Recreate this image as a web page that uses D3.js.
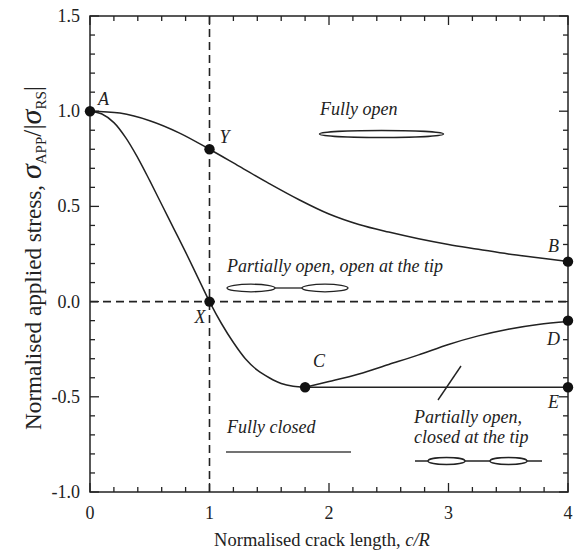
<!DOCTYPE html>
<html><head><meta charset="utf-8">
<script src="https://cdn.jsdelivr.net/npm/d3@7"></script>
<style>
html,body{margin:0;padding:0;background:#fff;}
</style></head>
<body>
<svg id="chart" width="575" height="559"></svg>
<script>
// Upper boundary A–Y–B (fully open / partially open, open at tip)
const upperX = [0, 0.25, 0.5, 0.75, 1.0, 1.25, 1.5, 1.75, 2.0, 2.25, 2.5, 2.75, 3.0, 3.25, 3.5, 3.75, 4.0];
const upperY = [1.0, 0.99, 0.95, 0.885, 0.8, 0.71, 0.62, 0.535, 0.46, 0.405, 0.365, 0.33, 0.3, 0.275, 0.25, 0.23, 0.21];
// Lower boundary A–X–C
const lowerX = [0, 0.1, 0.2, 0.3, 0.4, 0.5, 0.6, 0.7, 0.8, 0.9, 1.0, 1.1, 1.2, 1.3, 1.4, 1.5, 1.6, 1.7, 1.8];
const lowerY = [1.0, 0.985, 0.94, 0.86, 0.755, 0.635, 0.51, 0.385, 0.26, 0.13, 0.0, -0.115, -0.215, -0.3, -0.36, -0.4, -0.43, -0.445, -0.45];
// Branch C–D
const cdX = [1.8, 2.0, 2.25, 2.5, 2.75, 3.0, 3.25, 3.5, 3.75, 4.0];
const cdY = [-0.45, -0.42, -0.38, -0.33, -0.28, -0.225, -0.18, -0.145, -0.12, -0.105];
// Branch C–E
const ceX = [1.8, 4.0];
const ceY = [-0.45, -0.45];
// Labelled points
const pointNames = ["A", "Y", "B", "X", "C", "D", "E"];
const pointX = [0, 1, 4, 1, 1.8, 4, 4];
const pointY = [1.0, 0.8, 0.21, 0.0, -0.45, -0.1, -0.45];
// Ticks
const xTickLabels = ["0", "1", "2", "3", "4"];
const yTickLabels = ["1.5", "1.0", "0.5", "0.0", "-0.5", "-1.0"];
const xTicks = [0, 1, 2, 3, 4];
const yTicks = [1.5, 1.0, 0.5, 0.0, -0.5, -1.0];

const FONT = "'Liberation Serif', 'Times New Roman', 'DejaVu Serif', serif";
const svg = d3.select("#chart").attr("font-family", FONT).style("font-family", FONT);
const L = 90, R = 568, T = 16, B = 492;
const x = d3.scaleLinear().domain([0, 4]).range([L, R]);
const y = d3.scaleLinear().domain([-1, 1.5]).range([B, T]);
const ink = "#222";

// frame
svg.append("rect").attr("x", L).attr("y", T).attr("width", R - L).attr("height", B - T)
  .attr("fill", "none").attr("stroke", ink).attr("stroke-width", 1.5);

// minor/major ticks (inward on all sides)
const xMinor = d3.range(0, 4.0001, 0.2);
const yMinor = d3.range(-1, 1.5001, 0.1);
const isMajor = (v, s) => Math.abs(v / s - Math.round(v / s)) < 1e-6;
const tg = svg.append("g").attr("stroke", ink).attr("stroke-width", 1.3);
xMinor.forEach(v => {
  const len = isMajor(v, 1) ? 9 : 5;
  tg.append("line").attr("x1", x(v)).attr("x2", x(v)).attr("y1", B).attr("y2", B - len);
  tg.append("line").attr("x1", x(v)).attr("x2", x(v)).attr("y1", T).attr("y2", T + len);
});
yMinor.forEach(v => {
  const len = isMajor(v, 0.5) ? 9 : 5;
  tg.append("line").attr("y1", y(v)).attr("y2", y(v)).attr("x1", L).attr("x2", L + len);
  tg.append("line").attr("y1", y(v)).attr("y2", y(v)).attr("x1", R).attr("x2", R - len);
});

const txt = (sel) => sel.attr("fill", "#222").style("font-family", FONT);

// tick labels
xTicks.forEach((v, i) => {
  svg.append("text").call(txt).attr("x", x(v)).attr("y", 519).attr("text-anchor", "middle")
    .attr("font-size", 18).text(xTickLabels[i]);
});
yTicks.forEach((v, i) => {
  svg.append("text").call(txt).attr("x", 80).attr("y", y(v) + 6).attr("text-anchor", "end")
    .attr("font-size", 18).text(yTickLabels[i]);
});

// axis titles
svg.append("text").call(txt).attr("x", 322).attr("y", 546).attr("text-anchor", "middle").attr("font-size", 18.5)
  .call(t => {
    t.append("tspan").text("Normalised crack length, ");
    t.append("tspan").attr("font-style", "italic").text("c/R");
  });
const yTitle = svg.append("text").call(txt).attr("transform", `translate(41,258) rotate(-90)`)
  .attr("text-anchor", "middle").attr("font-size", 20)
  .call(t => {
    t.append("tspan").text("Normalised applied stress, ");
    t.append("tspan").attr("font-style", "italic").attr("font-size", 26).text("σ");
    t.append("tspan").attr("font-size", 13).attr("dy", 5).text("APP");
    t.append("tspan").attr("dy", -5).attr("font-size", 22).text("/|");
    t.append("tspan").attr("font-style", "italic").attr("font-size", 26).text("σ");
    t.append("tspan").attr("font-size", 13).attr("dy", 5).text("RS");
    t.append("tspan").attr("dy", -5).attr("font-size", 22).text("|");
  });
// fit the rotated title to span roughly y = 86 … 430 as in the reference
{
  const len = yTitle.node().getComputedTextLength();
  const k = 344 / len;
  yTitle.attr("font-size", 20 * k);
  yTitle.selectAll("tspan").each(function () {
    const fs = d3.select(this).attr("font-size");
    if (fs) d3.select(this).attr("font-size", +fs * k);
  });
}

// dashed reference lines
svg.append("line").attr("x1", x(1)).attr("x2", x(1)).attr("y1", T).attr("y2", B)
  .attr("stroke", ink).attr("stroke-width", 1.6).attr("stroke-dasharray", "8,5");
svg.append("line").attr("x1", L).attr("x2", R).attr("y1", y(0)).attr("y2", y(0))
  .attr("stroke", ink).attr("stroke-width", 1.6).attr("stroke-dasharray", "8,5");

// curves
const line = d3.line().x(d => x(d[0])).y(d => y(d[1])).curve(d3.curveCatmullRom.alpha(0.5));
const zip = (a, b) => a.map((v, i) => [v, b[i]]);
[[upperX, upperY], [lowerX, lowerY], [cdX, cdY], [ceX, ceY]].forEach(([xs, ys]) => {
  svg.append("path").attr("d", line(zip(xs, ys))).attr("fill", "none")
    .attr("stroke", ink).attr("stroke-width", 1.5);
});

// points
pointX.forEach((v, i) => {
  svg.append("circle").attr("cx", x(v)).attr("cy", y(pointY[i])).attr("r", 5.2).attr("fill", "#111");
});
// point labels
const labelOff = {A: [8, -6], Y: [10, -6], B: [-20, -10], X: [-15, 21], C: [8, -20], D: [-21, 24], E: [-20, 21]};
pointNames.forEach((n, i) => {
  const o = labelOff[n];
  svg.append("text").call(txt).attr("x", x(pointX[i]) + o[0]).attr("y", y(pointY[i]) + o[1])
    .attr("font-style", "italic").attr("font-size", 18).text(n);
});

// annotations
const ann = (tx, ty, s) => svg.append("text").call(txt).attr("x", tx).attr("y", ty)
  .attr("font-style", "italic").attr("font-size", 18).text(s);
ann(320, 115, "Fully open");
svg.append("ellipse").attr("cx", 381.5).attr("cy", 134).attr("rx", 62).attr("ry", 3.5)
  .attr("fill", "none").attr("stroke", ink).attr("stroke-width", 1.4);

ann(227, 272, "Partially open, open at the tip");
svg.append("ellipse").attr("cx", 251).attr("cy", 288).attr("rx", 24).attr("ry", 3.8)
  .attr("fill", "none").attr("stroke", ink).attr("stroke-width", 1.3);
svg.append("ellipse").attr("cx", 325).attr("cy", 288).attr("rx", 23).attr("ry", 3.8)
  .attr("fill", "none").attr("stroke", ink).attr("stroke-width", 1.3);
svg.append("line").attr("x1", 275).attr("x2", 302).attr("y1", 288).attr("y2", 288)
  .attr("stroke", ink).attr("stroke-width", 1.3);

ann(227, 433, "Fully closed");
svg.append("line").attr("x1", 226).attr("x2", 351).attr("y1", 452).attr("y2", 452)
  .attr("stroke", "#444").attr("stroke-width", 1.4);

ann(414, 423, "Partially open,");
ann(414, 443, "closed at the tip");
svg.append("line").attr("x1", 415).attr("x2", 542).attr("y1", 461).attr("y2", 461)
  .attr("stroke", ink).attr("stroke-width", 1.3);
svg.append("ellipse").attr("cx", 446.5).attr("cy", 461).attr("rx", 18.5).attr("ry", 3.5)
  .attr("fill", "#fff").attr("stroke", ink).attr("stroke-width", 1.3);
svg.append("ellipse").attr("cx", 508.5).attr("cy", 461).attr("rx", 18.5).attr("ry", 3.5)
  .attr("fill", "#fff").attr("stroke", ink).attr("stroke-width", 1.3);
svg.append("line").attr("x1", 461).attr("x2", 438).attr("y1", 366).attr("y2", 400)
  .attr("stroke", ink).attr("stroke-width", 1.4);
</script>
</body></html>
